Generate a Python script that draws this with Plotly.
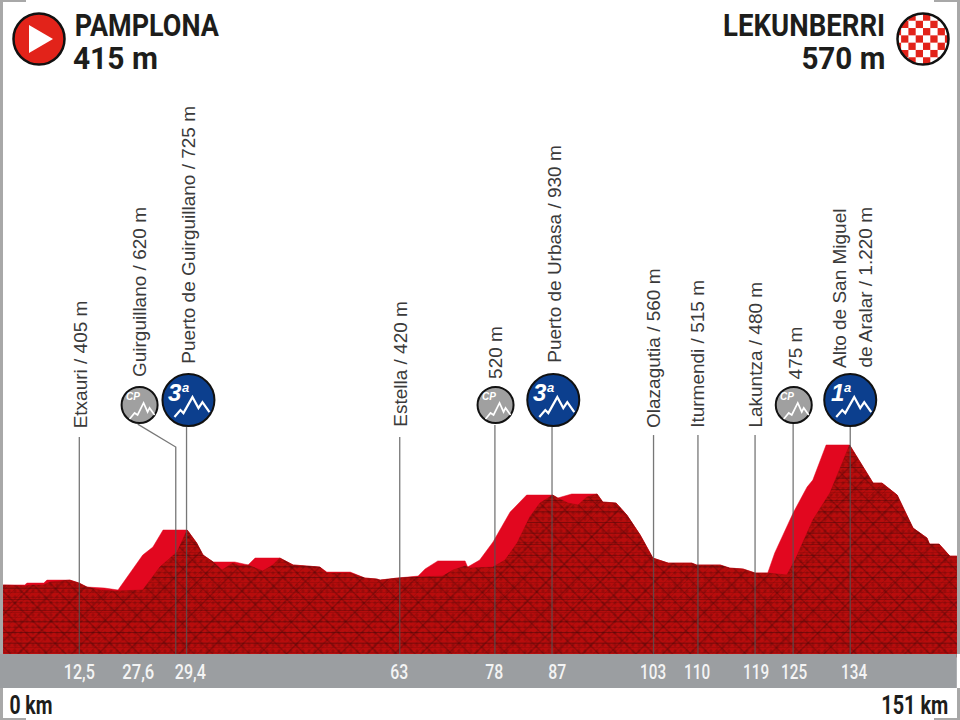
import math, json
import plotly.graph_objects as go

# ---- data: back ridge (bright) silhouette, km / metres
TOP_KM = [0.5,3.9,4.25,6.9,7.4,11.0,12.45,13.7,16.5,18.6,22.5,24.1,25.7,29.5,31.0,32.0,33.6,37.0,39.1,40.2,44.1,46.2,50.4,51.5,55.2,57.5,59.4,59.9,62.7,65.9,67.0,69.0,73.3,73.7,75.6,77.7,80.4,83.0,87.1,87.9,90.1,94.1,95.0,97.1,98.8,100.9,102.9,105.3,109.0,109.8,113.5,115.0,117.1,119.0,121.0,122.1,125.0,127.2,128.1,130.2,133.9,137.6,139.0,141.4,143.9,146.1,146.5,148.0,149.7,150.8]
TOP_M = [415,415,426,426,443,443,426,403,397,386,587,633,731,731,656,587,547,547,530,570,570,530,518,489,489,455,449,443,455,466,507,553,553,518,558,662,834,932,932,915,938,938,892,886,817,702,570,541,541,530,530,512,507,484,484,599,829,978,1018,1220,1220,1001,1001,932,742,685,650,650,581,581]
# front ridge (dark, textured) silhouette
FRONT_KM = [0.5,3.9,5.2,6.9,7.9,11.0,12.45,13.7,15.8,18.1,22.5,25.2,27.9,29.5,31.0,32.0,33.6,35.0,36.7,37.8,39.1,41.4,43.0,44.1,46.2,50.4,51.5,55.2,57.5,59.4,59.9,62.7,65.9,69.8,71.4,73.3,74.1,77.7,79.6,81.5,83.5,85.1,87.1,87.9,89.5,91.1,92.5,94.1,95.0,97.1,98.8,100.9,102.9,105.3,109.0,109.8,113.5,115.0,117.1,119.0,121.0,124.0,125.3,128.1,130.8,133.9,137.6,139.0,141.4,143.9,146.1,146.5,148.0,149.7,150.8]
FRONT_M = [415,409,415,415,432,443,426,403,386,380,386,518,604,731,656,587,547,501,541,524,530,495,530,570,530,518,484,484,455,449,443,455,461,466,501,524,512,518,558,656,806,886,932,915,886,875,921,938,892,886,817,702,570,541,541,530,530,512,507,484,484,472,558,788,944,1220,1001,1001,932,742,685,650,650,581,581]

# stems: km, top elevation of the stem
STEM_KM = [12.5,29.4,63,78,87,103,110,119,125,134]
STEM_TOP = [1266,1323,1266,1335,1323,1277,1277,1277,1346,1346]
CP27_KM = [21.7,27.7,27.7]
CP27_M = [1340,1208,18]

# tick labels in the grey band
TICK_LABELS = ["12,5","27,6","29,4","63","78","87","103","110","119","125","134"]
TICK_KM = [12.6,21.9,30.1,62.9,78,87.8,102.9,109.8,119.1,125.1,134.6]

# rotated place labels
PLACE_TEXT = ["Etxauri / 405 m","Guirguillano / 620 m","Puerto de Guirguillano / 725 m","Estella / 420 m","520 m","Puerto de Urbasa / 930 m","Olazagutia / 560 m","Iturmendi / 515 m","Lakuntza / 480 m","475 m","Alto de San Miguel","de Aralar / 1.220 m"]
PLACE_KM = [12.7,22.0,29.7,63,78.2,87.4,103,110,119.1,125.4,132.3,136.4]
PLACE_M = [1313,1608,1690,1323,1598,1690,1318,1318,1318,1598,1665,1665]

# category badges
BADGE_KM = [22.0,29.7,78.1,87.2,125.1,134.0]
BADGE_M = [1450,1478,1450,1478,1450,1478]
BADGE_CAT = ["CP","3","CP","3","CP","1"]

BAND_TOP_M = 18
BAND_BOTTOM_M = -178
X_RANGE = [0, 151.3]
Y_RANGE = [-361.5, 3778.5]

W, H = 960, 720
def pxx(x): return x / W
def pxy(y): return 1 - y / H
def kmx(km): return km / X_RANGE[1] * W
def my(m): return (Y_RANGE[1] - m) / (Y_RANGE[1] - Y_RANGE[0]) * H

fig = go.Figure()
fig.add_trace(go.Scatter(x=TOP_KM, y=TOP_M, mode="lines", fill="tozeroy", line=dict(color="#e2071f", width=0.5), fillcolor="#e2071f", hoverinfo="skip"))
fig.add_trace(go.Scatter(x=FRONT_KM, y=FRONT_M, mode="lines", fill="tozeroy", line=dict(color="#a30a0a", width=0.5), fillcolor="#b80c0c", hoverinfo="skip"))
for shp, sz, sol, op in [("-", 5, 0.2, 0.18), ("/", 7, 0.14, 0.18), ("\\", 13, 0.1, 0.35), (".", 6, 0.25, 0.22), ("-", 11, 0.1, 0.35), ("/", 19, 0.07, 0.35)]:
    fig.add_trace(go.Scatter(x=FRONT_KM, y=FRONT_M, mode="none", fill="tozeroy", fillcolor="rgba(0,0,0,0)",
                             fillpattern=dict(shape=shp, size=sz, solidity=sol, fgcolor="#3a0303", fgopacity=op, bgcolor="rgba(0,0,0,0)"), hoverinfo="skip"))

# stems
sx, sy = [], []
for k, t in zip(STEM_KM, STEM_TOP):
    sx += [k, k, None]; sy += [BAND_TOP_M, t, None]
sx += CP27_KM + [None]; sy += CP27_M + [None]
fig.add_trace(go.Scatter(x=sx, y=sy, mode="lines", line=dict(color="rgba(85,85,85,0.8)", width=1.3), hoverinfo="skip"))

# badges
bc = ["#a0a0a0" if c == "CP" else "#0c3f8e" for c in BADGE_CAT]
bs = [36 if c == "CP" else 52 for c in BADGE_CAT]
fig.add_trace(go.Scatter(x=BADGE_KM, y=BADGE_M, mode="markers", marker=dict(size=bs, color=bc, opacity=1, line=dict(color="#111111", width=2)), hoverinfo="skip"))

shapes, annots = [], []
def rect(x0, y0, x1, y1, color, layer="above"):
    shapes.append(dict(type="rect", xref="paper", yref="paper", x0=pxx(x0), x1=pxx(x1), y0=pxy(y0), y1=pxy(y1), fillcolor=color, line=dict(width=0), layer=layer))
def path(points, close=False, fill=None, line=None, width=1.6):
    d = "M" + " L".join(f"{pxx(x):.5f},{pxy(y):.5f}" for x, y in points) + (" Z" if close else "")
    shapes.append(dict(type="path", xref="paper", yref="paper", path=d, fillcolor=fill or "rgba(0,0,0,0)", line=dict(color=line or "rgba(0,0,0,0)", width=width), layer="above"))
def text(x, y, s, size, color="#1d1d1b", family="Roboto", xanchor="center", yanchor="middle", angle=0, weight="normal", style="normal"):
    annots.append(dict(xref="paper", yref="paper", x=pxx(x), y=pxy(y), text=s, showarrow=False,
                       font=dict(size=size, color=color, family=family, weight=weight, style=style),
                       xanchor=xanchor, yanchor=yanchor, textangle=angle, borderpad=0, borderwidth=0))

# grey band via data axis
shapes.append(dict(type="rect", xref="x", yref="y", x0=-1, x1=150.8, y0=BAND_BOTTOM_M, y1=BAND_TOP_M, fillcolor="#9b9ea1", line=dict(width=0), layer="above"))
# frame
G = "#a8a8a8"
rect(0, 0, 3, 654, G); rect(0, 0, 26, 2, G); rect(957, 0, 960, 654, G); rect(934, 0, 960, 2, G)
rect(0, 688, 3, 720, G); rect(0, 718, 26, 720, G); rect(957, 688, 960, 720, G); rect(934, 718, 960, 720, G)

# band ticks
for lab, k in zip(TICK_LABELS, TICK_KM):
    text(kmx(k), 671.5, lab, 20, color="#f4f4f4", weight=500)

# place labels
for s, k, m in zip(PLACE_TEXT, PLACE_KM, PLACE_M):
    text(kmx(k), my(m), s, 19, color="#3a3a3a", family="Liberation Sans", yanchor="bottom", angle=-90)

# badge glyphs
MT_BIG = [(-14,17),(-8,10),(-5,13),(4,-3),(10,8),(14,2),(21,12)]
MT_CP = [(-10,14),(-5,8),(-2,10),(4,-2),(8,7),(10,3),(15,10)]
for k, m, c in zip(BADGE_KM, BADGE_M, BADGE_CAT):
    cx, cy = kmx(k), my(m)
    if c == "CP":
        path([(cx+a, cy+b) for a, b in MT_CP], line="#ffffff", width=1.7)
        text(cx-7, cy-8, "CP", 10, color="#ffffff", family="Liberation Sans", weight="bold", style="italic")
    else:
        path([(cx+a, cy+b) for a, b in MT_BIG], line="#ffffff", width=2.2)
        text(cx-13, cy-8, c, 24, color="#ffffff", family="Liberation Sans", weight="bold", style="italic")
        text(cx-3, cy-13, "a", 13, color="#ffffff", family="Liberation Sans", weight="bold", style="italic")

# start badge
def circle(cx, cy, r, fill, line="#111111", w=2.5):
    shapes.append(dict(type="circle", xref="paper", yref="paper", x0=pxx(cx-r), x1=pxx(cx+r), y0=pxy(cy+r), y1=pxy(cy-r), fillcolor=fill, line=dict(color=line, width=w), layer="above"))
circle(39, 39, 25.5, "#e2231a")
path([(29,25),(53,39),(29,53)], close=True, fill="#ffffff")

# finish badge
FX, FY, FR, CELL = 923, 39, 25.5, 7.3
circle(FX, FY, FR, "#ffffff", line="rgba(0,0,0,0)", w=0)
for i in range(-4, 4):
    for j in range(-4, 4):
        if (i + j) % 2:
            continue
        x0, y0 = FX + i*CELL, FY + j*CELL + CELL*0.5
        corners = [(x0,y0),(x0+CELL,y0),(x0+CELL,y0+CELL),(x0,y0+CELL)]
        if all(math.hypot(a-FX, b-FY) >= FR for a, b in corners):
            continue
        pts = []
        for q in range(4):
            a, b = corners[q]; c, d = corners[(q+1) % 4]
            for t in range(12):
                u = a + (c-a)*t/12; v = b + (d-b)*t/12
                rr = math.hypot(u-FX, v-FY)
                if rr > FR:
                    u = FX + (u-FX)*FR/rr; v = FY + (v-FY)*FR/rr
                pts.append((u, v))
        path(pts, close=True, fill="#e2231a", width=0)
circle(FX, FY, FR, "rgba(0,0,0,0)")

# headers (centred on the reference's extents; widths condensed below)
text(147, 26, "PAMPLONA", 31, weight="bold")
text(115, 58, "415 m", 32, weight="bold")
text(804, 26, "LEKUNBERRI", 31, weight="bold")
text(843, 58, "570 m", 32, weight="bold")
text(31, 705, "0 km", 26, weight="bold")
text(915, 705, "151 km", 26, weight="bold")

TEXT_WIDTHS = {"PAMPLONA":144,"415 m":85,"LEKUNBERRI":162,"570 m":84,"0 km":43,"151 km":67,
               "12,5":31,"27,6":32,"29,4":31,"63":18,"78":18,"87":18,"103":26,"110":26,"119":26,"125":26,"134":26}

fig.update_layout(width=W, height=H, margin=dict(l=0, r=0, t=0, b=0), paper_bgcolor="#ffffff", plot_bgcolor="#ffffff",
                  showlegend=False, shapes=shapes, annotations=annots,
                  xaxis=dict(range=X_RANGE, visible=False, fixedrange=True),
                  yaxis=dict(range=Y_RANGE, visible=False, fixedrange=True))
condense = """
document.body.style.margin='0';
var tw = %s;
function condense(){
  document.querySelectorAll('.annotation-text').forEach(function(t){
    var w = tw[t.textContent];
    if (w) { t.setAttribute('textLength', w); t.setAttribute('lengthAdjust', 'spacingAndGlyphs'); }
  });
}
condense(); setTimeout(condense, 30); setTimeout(condense, 200);
""" % json.dumps(TEXT_WIDTHS)
fig.write_html("out.html", post_script=condense, config=dict(displayModeBar=False))
